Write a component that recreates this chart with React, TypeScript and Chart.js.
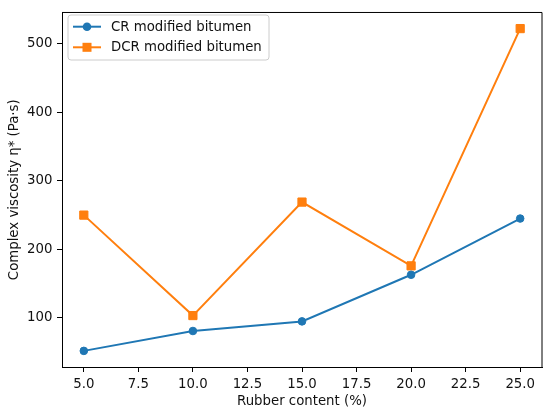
import React, { useEffect, useRef } from "react";
import { Chart, registerables } from "chart.js";

Chart.register(...registerables);

const rubberContent = [5, 10, 15, 20, 25];
const crValues = [52, 81, 95, 163, 245];
const dcrValues = [250, 103.5, 269, 176, 522];
const xTickValues = [5, 7.5, 10, 12.5, 15, 17.5, 20, 22.5, 25];
const yTickValues = [100, 200, 300, 400, 500];
const seriesLabels = ["CR modified bitumen", "DCR modified bitumen"];
const xTitle = "Rubber content (%)";
const yTitle = "Complex viscosity η* (Pa·s)";

const FONT = '"DejaVu Sans", sans-serif';
const FS = 13.3;
const BLUE = "#1f77b4";
const ORANGE = "#ff7f0e";

const framePlugin = {
  id: "frame",
  afterDraw(chart: any) {
    const { ctx, chartArea } = chart;
    const { left, right, top, bottom } = chartArea;
    ctx.save();
    ctx.strokeStyle = "#000";
    ctx.lineWidth = 1;
    ctx.beginPath();
    ctx.moveTo(left, top);
    ctx.lineTo(right, top);
    ctx.lineTo(right, bottom);
    ctx.stroke();

    // legend box
    const bx = 68, by = 15, bw = 201, bh = 45, r = 3;
    ctx.beginPath();
    ctx.moveTo(bx + r, by);
    ctx.lineTo(bx + bw - r, by);
    ctx.arcTo(bx + bw, by, bx + bw, by + r, r);
    ctx.lineTo(bx + bw, by + bh - r);
    ctx.arcTo(bx + bw, by + bh, bx + bw - r, by + bh, r);
    ctx.lineTo(bx + r, by + bh);
    ctx.arcTo(bx, by + bh, bx, by + bh - r, r);
    ctx.lineTo(bx, by + r);
    ctx.arcTo(bx, by, bx + r, by, r);
    ctx.closePath();
    ctx.fillStyle = "rgba(255,255,255,0.8)";
    ctx.fill();
    ctx.strokeStyle = "#cccccc";
    ctx.lineWidth = 1;
    ctx.stroke();

    const rows = [26.7, 47.3];
    chart.data.datasets.forEach((ds: any, i: number) => {
      const y = rows[i];
      ctx.strokeStyle = ds.borderColor;
      ctx.lineWidth = 2;
      ctx.beginPath();
      ctx.moveTo(73, y);
      ctx.lineTo(101, y);
      ctx.stroke();
      ctx.fillStyle = ds.borderColor;
      if (ds.pointStyle === "rect") {
        ctx.fillRect(87 - 4.5, y - 4.5, 9, 9);
      } else {
        ctx.beginPath();
        ctx.arc(87, y, 4.3, 0, Math.PI * 2);
        ctx.fill();
      }
      ctx.fillStyle = "#111";
      ctx.font = `${FS}px ${FONT}`;
      ctx.textBaseline = "middle";
      ctx.textAlign = "left";
      ctx.fillText(ds.label, 111, y + 0.5);
    });
    ctx.restore();
  },
};

export default function App() {
  const ref = useRef<HTMLCanvasElement>(null);
  useEffect(() => {
    document.body.style.margin = "0";
    if (!ref.current) return;
    const chart = new Chart(ref.current, {
      type: "line",
      data: {
        datasets: [
          {
            label: seriesLabels[0],
            data: rubberContent.map((x, i) => ({ x, y: crValues[i] })),
            borderColor: BLUE,
            backgroundColor: BLUE,
            borderWidth: 2,
            pointStyle: "circle",
            pointRadius: 3.8,
            pointBorderWidth: 1,
            tension: 0,
          },
          {
            label: seriesLabels[1],
            data: rubberContent.map((x, i) => ({ x, y: dcrValues[i] })),
            borderColor: ORANGE,
            backgroundColor: ORANGE,
            borderWidth: 2,
            pointStyle: "rect",
            pointRadius: 5.8,
            pointBorderWidth: 1,
            tension: 0,
          },
        ],
      },
      options: {
        responsive: false,
        animation: false,
        layout: { padding: { top: 9, right: 8, left: 0, bottom: 0 } },
        plugins: { legend: { display: false }, tooltip: { enabled: false } },
        scales: {
          x: {
            type: "linear",
            min: 4,
            max: 26,
            afterBuildTicks: (s: any) => {
              s.ticks = xTickValues.map((v) => ({ value: v }));
            },
            afterFit: (s: any) => {
              s.height = 49;
            },
            ticks: {
              callback: (v: any) => Number(v).toFixed(1),
              font: { family: FONT, size: FS },
              color: "#111",
              padding: 5,
              maxRotation: 0,
            },
            grid: {
              display: true,
              drawOnChartArea: false,
              drawTicks: true,
              tickLength: 5,
              color: "#000",
            },
            border: { display: true, color: "#000", width: 1 },
            title: {
              display: true,
              text: xTitle,
              font: { family: FONT, size: FS },
              color: "#111",
              padding: { top: 0, bottom: 6.3 },
            },
          },
          y: {
            type: "linear",
            min: 28.5,
            max: 545.5,
            afterBuildTicks: (s: any) => {
              s.ticks = yTickValues.map((v) => ({ value: v }));
            },
            afterFit: (s: any) => {
              s.width = 62;
            },
            ticks: {
              font: { family: FONT, size: FS },
              color: "#111",
              padding: 4.5,
            },
            grid: {
              display: true,
              drawOnChartArea: false,
              drawTicks: true,
              tickLength: 5,
              color: "#000",
            },
            border: { display: true, color: "#000", width: 1 },
            title: {
              display: true,
              text: yTitle,
              font: { family: FONT, size: FS },
              color: "#111",
              padding: { top: 6.5, bottom: 0 },
            },
          },
        },
      },
      plugins: [framePlugin],
    });
    return () => chart.destroy();
  }, []);
  return (
    <div style={{ width: 550, height: 416 }}>
      <canvas ref={ref} width={550} height={416} style={{ display: "block" }} />
    </div>
  );
}
